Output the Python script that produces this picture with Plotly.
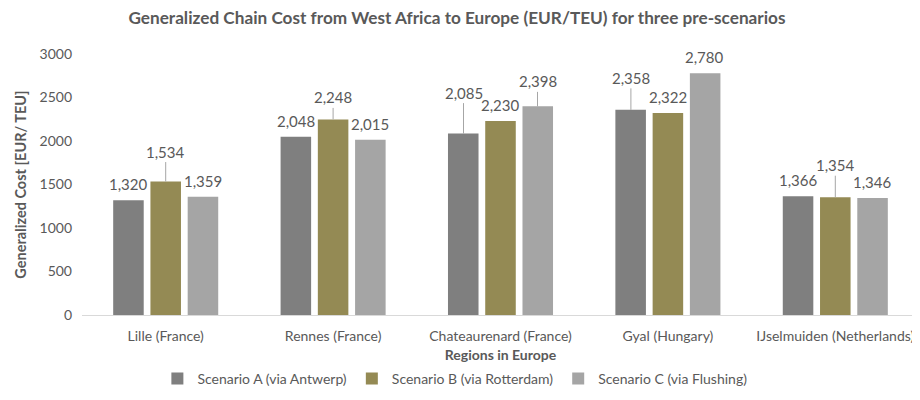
import plotly.graph_objects as go

regions = ["Lille (France)", "Rennes (France)", "Chateaurenard (France)", "Gyal (Hungary)", "IJselmuiden (Netherlands)"]
series_names = ["Scenario A (via Antwerp)", "Scenario B (via Rotterdam)", "Scenario C (via Flushing)"]
scenario_a = [1320, 2048, 2085, 2358, 1366]
scenario_b = [1534, 2248, 2230, 2322, 1354]
scenario_c = [1359, 2015, 2398, 2780, 1346]
y_ticks = [0, 500, 1000, 1500, 2000, 2500, 3000]

# styles
colors = ["#7f7f7f", "#948a54", "#a5a5a5"]
text_color = "#595959"
FONT = "Lato"
# label offsets (pixels above bar top) and whether a leader line is drawn
label_offsets = [
    [16, 16, 41, 32, 16],
    [30, 22, 16, 16, 32],
    [16, 16, 25, 16, 16],
]
leader = [
    [False, False, True, True, False],
    [True, True, False, False, True],
    [False, False, True, False, False],
]
x_shifts = [-37, 0, 37]

# the page body adds an 8px margin, so the figure is sized to fit the 920x400 window
W, H = 912, 392

fig = go.Figure()
all_vals = [scenario_a, scenario_b, scenario_c]
for name, vals, col in zip(series_names, all_vals, colors):
    fig.add_trace(go.Bar(x=regions, y=vals, name=name, marker=dict(color=col, line=dict(width=0))))

annotations = []
for si, vals in enumerate(all_vals):
    for ri, v in enumerate(vals):
        txt = f"{v:,}"
        if leader[si][ri]:
            annotations.append(dict(
                x=regions[ri], y=v, xref="x", yref="y", text=txt,
                showarrow=True, arrowhead=0, arrowwidth=1, arrowcolor="#a6a6a6",
                ax=0, ay=-label_offsets[si][ri], standoff=0,
                xshift=x_shifts[si],
                font=dict(family=FONT, size=15, color=text_color),
            ))
        else:
            annotations.append(dict(
                x=regions[ri], y=v, xref="x", yref="y", text=txt,
                showarrow=False, yanchor="middle", yshift=label_offsets[si][ri],
                xshift=x_shifts[si],
                font=dict(family=FONT, size=15, color=text_color),
            ))

fig.update_layout(
    width=W, height=H,
    margin=dict(l=74, r=1, t=46, b=85),
    paper_bgcolor="white", plot_bgcolor="white",
    barmode="group", bargap=0.3325, bargroupgap=0.18,
    font=dict(family=FONT, color=text_color, size=14),
    title=dict(
        text="<b>Generalized Chain Cost from West Africa to Europe (EUR/TEU) for three pre-scenarios</b>",
        x=449 / W, xref="container", xanchor="center",
        y=1 - 10 / H, yref="container", yanchor="middle",
        font=dict(family=FONT, size=17.2, color=text_color),
    ),
    xaxis=dict(
        automargin=False,
        showline=True, linecolor="#d9d9d9", linewidth=1,
        showgrid=False, ticks="", tickfont=dict(size=14, color=text_color),
        ticklabelstandoff=8,
        title=dict(text="<b>Regions in Europe</b>", standoff=8, font=dict(size=14, color=text_color)),
    ),
    yaxis=dict(
        automargin=False,
        range=[0, 3000], tickvals=y_ticks, showgrid=False, zeroline=False,
        showline=False, ticks="", tickfont=dict(size=14, color=text_color),
        ticklabelstandoff=9,
        title=dict(text="<b>Generalized Cost [EUR/ TEU]</b>", standoff=9, font=dict(size=14.5, color=text_color)),
    ),
    legend=dict(
        orientation="h", x=0.49, xref="container", xanchor="center",
        y=(H - 371) / H, yref="container", yanchor="middle",
        font=dict(size=14, color=text_color), itemwidth=30,
    ),
    annotations=annotations,
    showlegend=True,
)

fig.write_html("out.html")
